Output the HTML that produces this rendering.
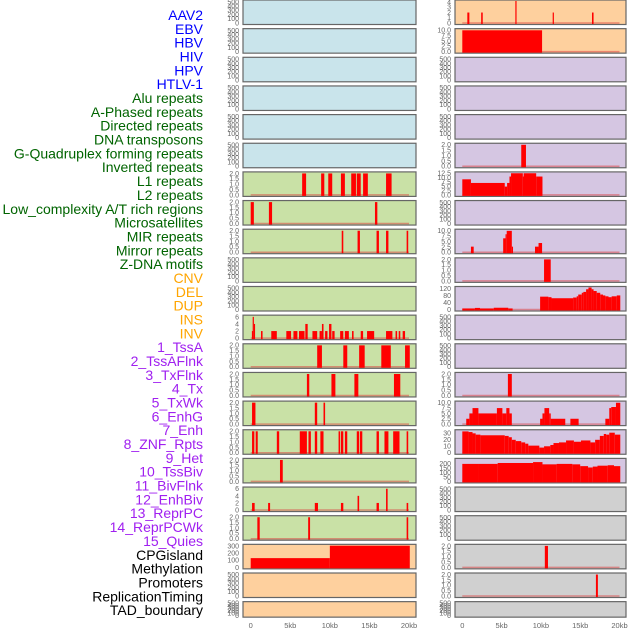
<!DOCTYPE html>
<html><head><meta charset="utf-8">
<style>
body{margin:0;background:#fff;width:630px;height:630px;overflow:hidden;font-family:"Liberation Sans",sans-serif}
svg{display:block}
</style></head>
<body>
<svg id="chart" width="630" height="630" xmlns="http://www.w3.org/2000/svg"></svg>
<script>
// ---- data ----
const featureLabels = ["AAV2","EBV","HBV","HIV","HPV","HTLV-1","Alu repeats","A-Phased repeats","Directed repeats","DNA transposons","G-Quadruplex forming repeats","Inverted repeats","L1 repeats","L2 repeats","Low_complexity A/T rich regions","Microsatellites","MIR repeats","Mirror repeats","Z-DNA motifs","CNV","DEL","DUP","INS","INV","1_TssA","2_TssAFlnk","3_TxFlnk","4_Tx","5_TxWk","6_EnhG","7_Enh","8_ZNF_Rpts","9_Het","10_TssBiv","11_BivFlnk","12_EnhBiv","13_ReprPC","14_ReprPCWk","15_Quies","CPGisland","Methylation","Promoters","ReplicationTiming","TAD_boundary"];
const labelColors = ["#0000ff","#0000ff","#0000ff","#0000ff","#0000ff","#0000ff","#006400","#006400","#006400","#006400","#006400","#006400","#006400","#006400","#006400","#006400","#006400","#006400","#006400","#ffa500","#ffa500","#ffa500","#ffa500","#ffa500","#a020f0","#a020f0","#a020f0","#a020f0","#a020f0","#a020f0","#a020f0","#a020f0","#a020f0","#a020f0","#a020f0","#a020f0","#a020f0","#a020f0","#a020f0","#000","#000","#000","#000","#000"];
const xTickValues = [0,5,10,15,20];
const xTickLabels = ["0","5kb","10kb","15kb","20kb"];
const ticksEmpty = [0,100,200,300,400,500];
const ticks2 = ["0.0","0.5","1.0","1.5","2.0"];
const ticks6 = [0,2,4,6];
const ticksAAV = [0,1,2,3,4];
const ticks10 = ["0.0","2.5","5.0","7.5","10.0"];
const ticks12 = ["0.0","2.5","5.0","7.5","10.0","12.5"];
const ticks120 = [0,40,80,120];
const ticks30 = [0,10,20,30];
const ticks200 = [0,50,100,150,200];
const ticks300 = [0,100,200,300];

// left column bars [startKb,endKb,value]
const L_row6 = [[6.5,7.0,2],[8.9,9.3,2],[9.8,10.3,2],[11.4,11.9,2],[12.7,13.3,2],[13.4,13.9,2],[14.2,14.8,2],[17.1,17.8,2]];
const L_row7 = [[0.0,0.4,2],[2.3,2.7,2],[15.7,16.0,2]];
const L_row8 = [[11.5,11.7,2],[13.5,13.8,2],[15.9,16.2,2],[17.1,17.4,2],[19.7,19.9,2]];
const L_row11 = [[0.15,0.25,2],[0.25,0.4,6],[0.4,0.5,4],[1.3,1.5,2],[2.6,3.3,2],[4.5,5.1,2],[5.4,5.9,2],[6.1,6.8,2],[6.9,7.2,4],[7.8,8.4,2],[8.7,9.0,2],[9.0,9.2,4],[9.4,9.7,2],[9.9,10.2,4],[10.3,10.6,2],[11.3,11.7,2],[11.9,12.4,2],[12.8,13.0,2],[13.9,14.2,2],[14.7,15.6,2],[17.1,17.9,2],[18.3,18.5,2],[18.7,18.9,2],[19.2,19.5,2]];
const L_row12 = [[8.4,9.0,2],[11.7,12.2,2],[13.7,14.4,2],[16.5,17.7,2],[19.5,20.1,2]];
const L_row13 = [[7.1,7.4,2],[10.2,10.7,2],[13.1,13.6,2],[18.1,18.9,2]];
const L_row14 = [[0.17,0.6,2],[8.1,8.4,2],[9.2,9.4,2]];
const L_row15 = [[0.17,0.46,2],[0.63,0.89,2],[3.3,3.6,2],[6.2,7.1,2],[7.3,7.6,2],[8.1,8.4,2],[8.8,9.2,2],[11.1,11.3,2],[11.4,11.7,2],[11.9,12.2,2],[13.4,13.7,2],[13.8,14.1,2],[15.9,16.2,2],[16.9,17.4,2],[18.0,18.8,2],[19.7,19.9,2]];
const L_row16 = [[3.7,4.05,2]];
const L_row17 = [[0.17,0.5,2],[2.2,2.45,2],[8.1,8.5,2],[11.4,11.7,2],[13.5,13.7,4],[15.9,16.2,2],[17.1,17.3,6],[19.7,19.9,2]];
const L_row18 = [[0.84,1.14,2],[7.26,7.5,2],[19.7,19.9,2]];
const L_row19 = [[0,10,130],[10,20.1,305]];

// right column bars
const R_row0 = [[0.64,0.9,2],[2.4,2.6,2],[6.75,6.9,4.2],[11.5,11.65,2],[16.5,16.7,2]];
const R_row1 = [[0,10.15,10]];
const R_row5 = [[7.5,8.1,2]];
const R_row6 = [[0,1.1,9],[1.1,5.4,6.9],[5.4,5.7,4.8],[5.7,6.0,6.9],[6.0,6.2,10.6],[6.2,7.7,12.5],[7.7,7.8,10.6],[7.8,9.4,12.5],[9.4,10.2,10.6]];
const R_row8 = [[1.1,1.45,2.6],[5.2,5.5,6.5],[5.5,5.65,8.4],[5.65,6.3,10],[6.3,6.45,2.6],[9.25,9.7,2.6],[9.7,10.15,4.3]];
const R_row9 = [[10.4,11.25,2]];
const R_row10 = [[0,1.6,6],[1.6,2.25,9],[2.25,4.0,6],[4.0,5.85,10],[5.85,6.4,6],[9.9,10.95,73],[10.95,11.35,70],[11.35,14.1,64],[14.1,14.55,68],[14.55,14.75,75],[14.75,15.2,85],[15.2,15.4,95],[15.4,15.75,100],[15.75,16.05,115],[16.05,16.45,125],[16.45,16.7,115],[16.7,17.1,105],[17.1,17.55,95],[17.55,17.9,85],[17.9,18.2,80],[18.2,18.6,75],[18.6,19.0,70],[19.0,19.65,75],[19.65,20.1,80]];
const R_row13 = [[5.8,6.3,2]];
const R_row14 = [[0.5,0.9,2.5],[0.9,1.3,5],[1.3,2.05,7.5],[2.05,4.4,5],[4.4,5.1,7.5],[5.1,5.6,5],[5.6,6.0,7.5],[6.0,6.3,5],[9.9,10.2,2.5],[10.2,10.45,5],[10.45,11.05,7.5],[11.05,11.25,5],[11.25,13.1,2.5],[13.75,14.8,2.5],[18.2,18.7,2.5],[18.7,18.95,7.5],[18.95,19.55,8],[19.55,20.1,10]];
const R_row15 = [[0,0.8,33],[0.8,1.3,32],[1.3,1.7,30],[1.7,2.3,28],[2.3,5.4,27],[5.4,5.9,26],[5.9,6.3,24],[6.3,6.8,20],[6.8,7.5,18],[7.5,8.0,16],[8.0,8.4,14],[8.4,9.8,11],[9.8,10.4,8],[10.4,11.2,10],[11.2,11.6,12],[11.6,12.3,15],[12.3,13.2,16],[13.2,14.2,19],[14.2,15.1,17],[15.1,16.3,19],[16.3,16.9,16],[16.9,17.5,20],[17.5,18.0,26],[18.0,18.3,29],[18.3,18.7,28],[18.7,19.4,31],[19.4,20.1,28]];
const R_row16 = [[0,2,195],[2,4.5,195],[4.5,9,205],[9,10.2,215],[10.2,12,190],[12,14,195],[14,15,190],[15,16,170],[16,16.6,155],[16.6,17.2,165],[17.2,18.5,175],[18.5,19.3,180],[19.3,20.1,170]];
const R_row19 = [[10.5,10.9,2]];
const R_row20 = [[17.0,17.25,2]];

const BLUE="#c9e4eb",GREEN="#c9e1a6",ORANGE="#fed09e",PURPLE="#d5c6e2",GRAY="#d0d0d0";
const panels = [];
function P(col,row,bg,ticks,ymax,bars,name){panels.push({col,row,bg,ticks,ymax,bars,name});}
for(let r=0;r<22;r++){
  const bg = r<6?BLUE:(r<19?GREEN:ORANGE);
  const map = {6:[ticks2,2.05,L_row6],7:[ticks2,2.05,L_row7],8:[ticks2,2.05,L_row8],11:[ticks6,6.2,L_row11],12:[ticks2,2.05,L_row12],13:[ticks2,2.05,L_row13],14:[ticks2,2.05,L_row14],15:[ticks2,2.05,L_row15],16:[ticks2,2.05,L_row16],17:[ticks6,6.2,L_row17],18:[ticks2,2.05,L_row18],19:[ticks300,310,L_row19]};
  const m = map[r]||[ticksEmpty,520,null];
  P(0,r,bg,m[0],m[1],m[2],'left-panel-'+r);
}
for(let r=0;r<22;r++){
  const bg = r<2?ORANGE:(r<17?PURPLE:GRAY);
  const map = {0:[ticksAAV,4.2,R_row0],1:[ticks10,10.3,R_row1],5:[ticks2,2.05,R_row5],6:[ticks12,12.7,R_row6],8:[ticks10,10.3,R_row8],9:[ticks2,2.05,R_row9],10:[ticks120,125,R_row10],13:[ticks2,2.05,R_row13],14:[ticks10,10.3,R_row14],15:[ticks30,34,R_row15],16:[ticks200,245,R_row16],19:[ticks2,2.05,R_row19],20:[ticks2,2.05,R_row20]};
  const m = map[r]||[ticksEmpty,520,null];
  P(1,r,bg,m[0],m[1],m[2],'right-panel-'+r);
}

// ---- drawing ----
const NS="http://www.w3.org/2000/svg";
const svg=document.getElementById('chart');
function mk(tag,attrs,parent){const e=document.createElementNS(NS,tag);for(const k in attrs)e.setAttribute(k,attrs[k]);(parent||svg).appendChild(e);return e;}
const colGeom=[{left:243,right:416,x0:250.7,x20:409,tickX:239},{left:455,right:626,x0:462.3,x20:619.5,tickX:451}];
function xScale(col,kb){const g=colGeom[col];return g.x0+(g.x20-g.x0)*kb/20;}
function rowTop(r){return r*28.65;}
function rowH(r){return r===21?15.5:24.5;}
function yScale(p,v){const t=rowTop(p.row),h=rowH(p.row);const b=t+h-1.5,tp=t+1;return b-(b-tp)*v/p.ymax;}

featureLabels.forEach((lab,i)=>{
  const t=mk('text',{x:203,y:15+i*13.84+5,'text-anchor':'end','font-size':'14',fill:labelColors[i]});
  t.textContent=lab;
  
  
});

panels.forEach(p=>{
  const g=colGeom[p.col];const t=rowTop(p.row),h=rowH(p.row);
  const grp=mk('g',{});
  
  
  mk('rect',{x:g.left,y:t,width:g.right-g.left,height:h,fill:p.bg,stroke:'#666','stroke-width':1.2},grp);
  p.ticks.forEach(tk=>{
    const v=parseFloat(tk);
    const tt=mk('text',{x:g.tickX,y:yScale(p,v)+2.4,'text-anchor':'end','font-size':'7',fill:'#666'},grp);
    tt.textContent=tk;
    
    
  });
  if(p.bars){
    mk('line',{x1:xScale(p.col,0),x2:xScale(p.col,20),y1:yScale(p,0),y2:yScale(p,0),stroke:'rgba(220,60,60,0.5)','stroke-width':1.5},grp);
    p.bars.forEach(b=>{
      const x1=xScale(p.col,b[0]),x2=xScale(p.col,b[1]);
      const y=yScale(p,b[2]);
      const r=mk('rect',{x:x1,y:y,width:Math.max(1.2,x2-x1),height:yScale(p,0)-y+1,fill:'#ff0000'},grp);
      
      
    });
  }
});

[0,1].forEach(c=>{
  xTickValues.forEach((v,i)=>{
    const t=mk('text',{x:xScale(c,v),y:628,'text-anchor':'middle','font-size':'7.5',fill:'#666'});
    t.textContent=xTickLabels[i];
    
    
  });
});
</script>
</body></html>
